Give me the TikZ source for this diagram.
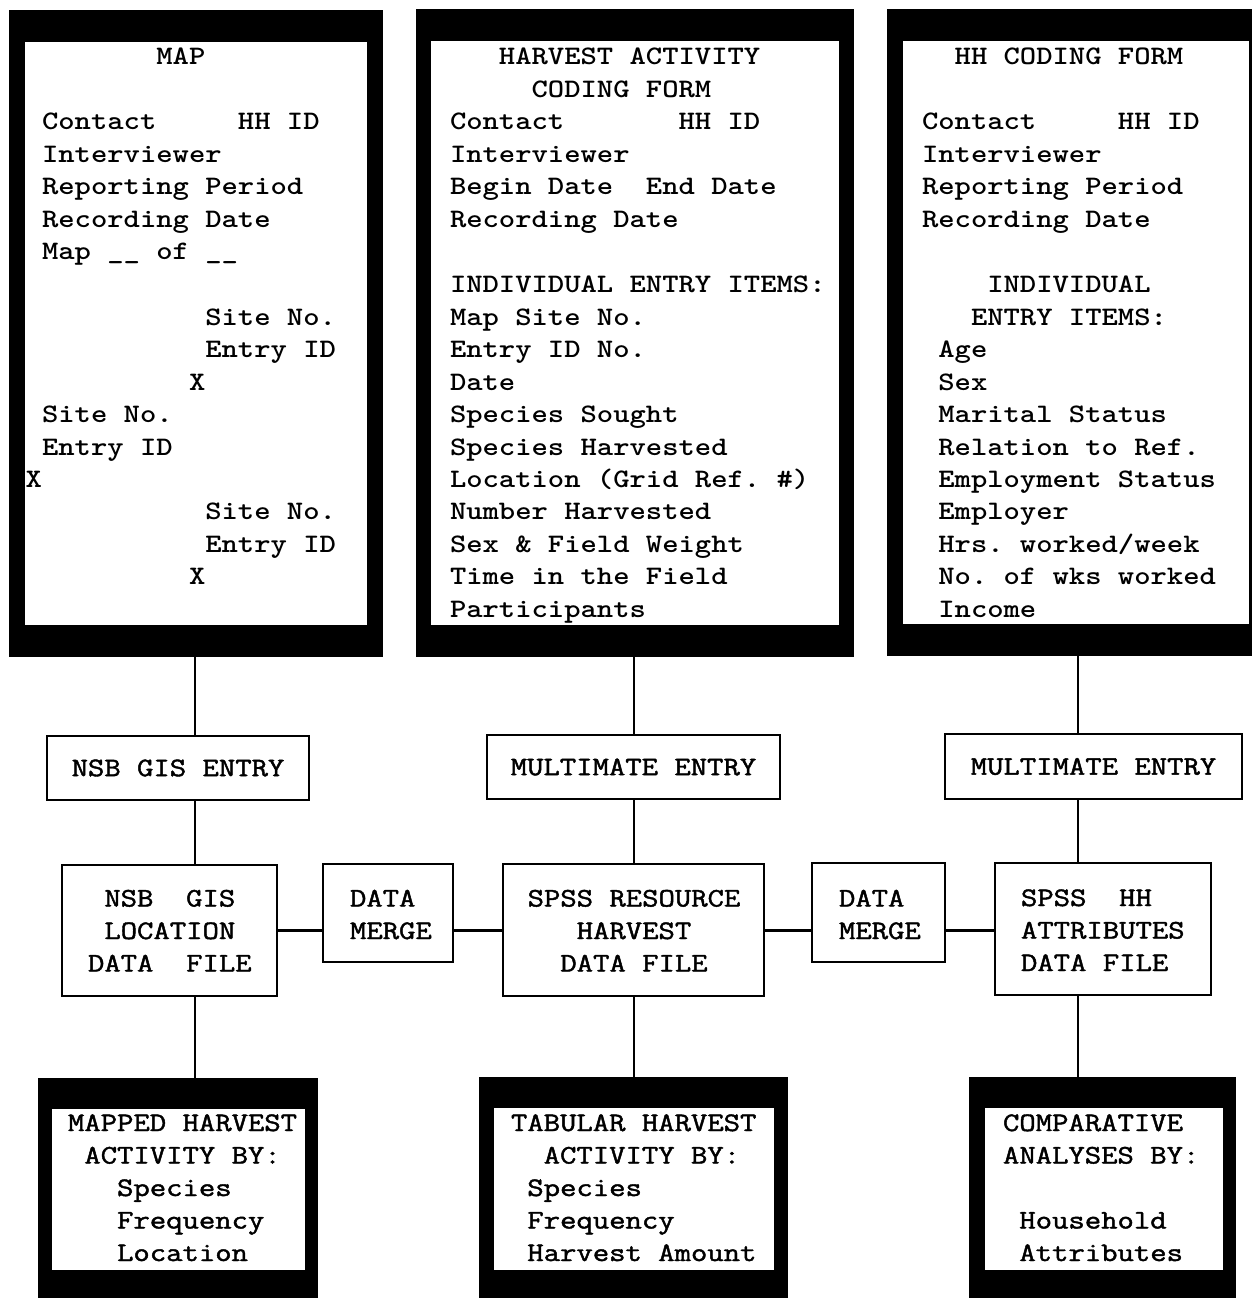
\documentclass[tikz,border=0pt]{standalone}
\usepackage{graphicx}
\usepackage{fontspec}
\newfontfamily\midtt[FakeBold=1.5]{lmmono12-regular.otf}
\newcommand\TopFont{\fontsize{26.7}{32.5}\selectfont\ttfamily\bfseries\frenchspacing}
\newcommand\MidFont{\fontsize{26.7}{32.5}\selectfont\midtt\frenchspacing}
\newcommand\TopLines[1]{\scalebox{1.165}[1]{\begin{tabular}[t]{@{}l@{}}#1\end{tabular}}}
\newcommand\MidLines[1]{\scalebox{1.19}[1]{\begin{tabular}[t]{@{}l@{}}#1\end{tabular}}}
\newcommand\MidCLines[1]{\scalebox{1.19}[1]{\begin{tabular}[t]{@{}c@{}}#1\end{tabular}}}
\newcommand\OneLine[1]{\scalebox{1.19}[1]{#1}}
\newcommand\rectnode[7]{%
  \node[#2, minimum width={#5-#3}, minimum height={#6-#4}] (#1) at ({(#3+#5)/2},{(#4+#6)/2}) {#7};}
\tikzset{
  blackbox/.style={fill=black, draw=none, inner sep=0pt, outer sep=0pt},
  whitebox/.style={fill=white, draw=none, inner sep=0pt, outer sep=0pt},
  plainbox/.style={draw=black, line width=2pt, fill=white, inner sep=0pt, outer sep=0pt, font=\MidFont},
  conn/.style={draw=black, line width=2pt},
  hconn/.style={draw=black, line width=3pt},
  toptext/.style={anchor=base west, inner sep=0pt, outer sep=0pt, font=\TopFont},
  midtext/.style={anchor=base west, inner sep=0pt, outer sep=0pt, font=\MidFont},
  midctext/.style={anchor=base, inner sep=0pt, outer sep=0pt, font=\MidFont}
}
\begin{document}
\begin{tikzpicture}[x=1pt,y=-1pt]
\useasboundingbox (0,0) rectangle (1251,1298);
\fill[white] (0,0) rectangle (1251,1298);

% reference coordinates for connectors
\coordinate (xa) at (195,0);
\coordinate (xb) at (634,0);
\coordinate (xc) at (1078,0);
\coordinate (hy) at (0,930);

% top forms
\rectnode{B1o}{blackbox}{9}{10}{383}{657}{}
\rectnode{B1i}{whitebox}{25}{42}{367}{625}{}
\rectnode{B2o}{blackbox}{416}{9}{854}{657}{}
\rectnode{B2i}{whitebox}{431}{41}{839}{625}{}
\rectnode{B3o}{blackbox}{887}{9}{1253}{656}{}
\rectnode{B3i}{whitebox}{903}{41}{1249}{624}{}

\node[toptext] (t1) at (25.7,65) {\TopLines{%
~~~~~~~~MAP\\
\\
~Contact~~~~~HH~ID\\
~Interviewer\\
~Reporting~Period\\
~Recording~Date\\
~Map~\_\_~of~\_\_\\
\\
~~~~~~~~~~~Site~No.\\
~~~~~~~~~~~Entry~ID\\
~~~~~~~~~~X\\
~Site~No.\\
~Entry~ID\\
X\\
~~~~~~~~~~~Site~No.\\
~~~~~~~~~~~Entry~ID\\
~~~~~~~~~~X}};

\node[toptext] (t2) at (450,65) {\TopLines{%
~~~HARVEST~ACTIVITY\\
~~~~~CODING~FORM\\
Contact~~~~~~~HH~ID\\
Interviewer\\
Begin~Date~~End~Date\\
Recording~Date\\
\\
INDIVIDUAL~ENTRY~ITEMS:\\
Map~Site~No.\\
Entry~ID~No.\\
Date\\
Species~Sought\\
Species~Harvested\\
Location~(Grid~Ref.~\#)\\
Number~Harvested\\
Sex~\&~Field~Weight\\
Time~in~the~Field\\
Participants}};

\node[toptext] (t3) at (922,65) {\TopLines{%
~~HH~CODING~FORM\\
\\
Contact~~~~~HH~ID\\
Interviewer\\
Reporting~Period\\
Recording~Date\\
\\
~~~~INDIVIDUAL\\
~~~ENTRY~ITEMS:\\
~Age\\
~Sex\\
~Marital~Status\\
~Relation~to~Ref.\\
~Employment~Status\\
~Employer\\
~Hrs.~worked/week\\
~No.~of~wks~worked\\
~Income}};

% entry boxes
\rectnode{gisE}{plainbox}{47}{736}{309}{800}{\OneLine{NSB GIS ENTRY}}
\rectnode{mmE1}{plainbox}{487}{735}{780}{799}{\OneLine{MULTIMATE ENTRY}}
\rectnode{mmE2}{plainbox}{945}{734}{1242}{799}{\OneLine{MULTIMATE ENTRY}}

% data file boxes
\rectnode{gisF}{plainbox}{62}{865}{277}{996}{}
\rectnode{dm1}{plainbox}{323}{864}{453}{962}{}
\rectnode{spssR}{plainbox}{503}{864}{764}{996}{}
\rectnode{dm2}{plainbox}{812}{863}{945}{962}{}
\rectnode{spssH}{plainbox}{995}{863}{1211}{995}{}

\node[midtext] (gisFt) at (88,906.5) {\MidLines{~NSB~~GIS\\ ~LOCATION\\ DATA~~FILE}};
\node[midtext] (dm1t) at (350,906.5) {\MidLines{DATA\\ MERGE}};
\node[midctext] (spssRt) at (634,906.5) {\MidCLines{SPSS~RESOURCE\\ HARVEST\\ DATA~FILE}};
\node[midtext] (dm2t) at (839,906.5) {\MidLines{DATA\\ MERGE}};
\node[midtext] (spssHt) at (1021,906) {\MidLines{SPSS~~HH\\ ATTRIBUTES\\ DATA~FILE}};

% output boxes
\rectnode{bb1o}{blackbox}{38}{1078}{318}{1302}{}
\rectnode{bb1i}{whitebox}{52}{1109}{305}{1270}{}
\rectnode{bb2o}{blackbox}{479}{1077}{788}{1302}{}
\rectnode{bb2i}{whitebox}{494}{1108}{774}{1270}{}
\rectnode{bb3o}{blackbox}{969}{1077}{1236}{1302}{}
\rectnode{bb3i}{whitebox}{985}{1108}{1223}{1270}{}

\node[midtext] (bb1t) at (68,1131) {\MidLines{MAPPED~HARVEST\\ ~ACTIVITY~BY:\\ ~~~Species\\ ~~~Frequency\\ ~~~Location}};
\node[midtext] (bb2t) at (511,1131) {\MidLines{TABULAR~HARVEST\\ ~~ACTIVITY~BY:\\ ~Species\\ ~Frequency\\ ~Harvest~Amount}};
\node[midtext] (bb3t) at (1003,1131) {\MidLines{COMPARATIVE\\ ANALYSES~BY:\\ \\ ~Household\\ ~Attributes}};

% connectors
\draw[conn] (B1o.south -| xa) -- (gisE.north -| xa);
\draw[conn] (gisE.south -| xa) -- (gisF.north -| xa);
\draw[conn] (gisF.south -| xa) -- (bb1o.north -| xa);
\draw[conn] (B2o.south -| xb) -- (mmE1.north -| xb);
\draw[conn] (mmE1.south -| xb) -- (spssR.north -| xb);
\draw[conn] (spssR.south -| xb) -- (bb2o.north -| xb);
\draw[conn] (B3o.south -| xc) -- (mmE2.north -| xc);
\draw[conn] (mmE2.south -| xc) -- (spssH.north -| xc);
\draw[conn] (spssH.south -| xc) -- (bb3o.north -| xc);
\draw[hconn] (gisF.east |- hy) -- (dm1.west |- hy);
\draw[hconn] (dm1.east |- hy) -- (spssR.west |- hy);
\draw[hconn] (spssR.east |- hy) -- (dm2.west |- hy);
\draw[hconn] (dm2.east |- hy) -- (spssH.west |- hy);
\end{tikzpicture}
\end{document}
